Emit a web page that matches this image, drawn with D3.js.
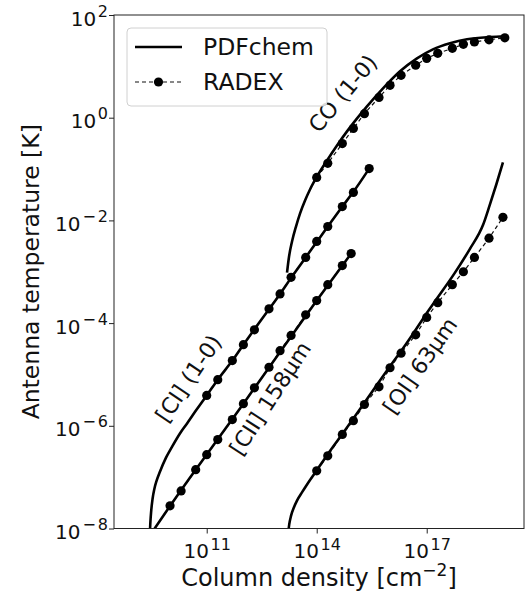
<!DOCTYPE html>
<html><head><meta charset="utf-8">
<script src="https://cdn.jsdelivr.net/npm/d3@7"></script>
<style>
body{margin:0;background:#fff}
text{font-family:"DejaVu Sans",sans-serif;fill:#111}
</style>
</head><body>
<svg id="c" width="531" height="604"></svg>
<script>
// ---------- data (column density N [cm^-2], antenna temperature T [K]) ----------
const coPdfN = [1.55e13,1.76e13,2.12e13,2.72e13,3.50e13,4.80e13,6.56e13,1.02e14,1.91e14,3.57e14,6.70e14,1.26e15,2.35e15,6.43e15,1.87e16,5.43e16,1.48e17,4.32e17,1.26e18,5.32e18,1.36e19];
const coPdfT = [9.64e-4,1.98e-3,3.88e-3,7.60e-3,1.36e-2,2.44e-2,4.0e-2,7.18e-2,0.147,0.288,0.541,0.968,1.66,3.72,8.0,14.3,21.4,28.1,33.6,37.2,38.5];
const coRadN = [1e14,2e14,5e14,1e15,2e15,5e15,1e16,2e16,5e16,1e17,2e17,5e17,1e18,2e18,5e18,1.35e19];
const coRadT = [0.0686,0.129,0.314,0.617,1.20,2.48,4.27,6.68,10.5,14.3,17.9,22.4,26.9,29.8,32.9,36.0];

const ciPdfN = [2.79e9,2.90e9,3.06e9,3.33e9,3.73e9,4.28e9,5.33e9,7.76e9,1.13e10,1.86e10,2.88e10,5.13e10,1e11,2e11,5e11,1e12,2e12,5e12,1e13,2e13,5e13,1e14,2e14,5e14,1e15,2.7e15];
const ciPdfT = [7.2e-9,1.29e-8,2.19e-8,3.76e-8,5.9e-8,8.45e-8,1.29e-7,2.4e-7,3.9e-7,7.1e-7,1.1e-6,2.0e-6,3.9e-6,7.9e-6,1.86e-5,3.8e-5,7.6e-5,1.86e-4,3.7e-4,7.6e-4,1.9e-3,3.8e-3,7.6e-3,1.86e-2,3.6e-2,0.102];
const ciRadN = [1e11,2e11,5e11,1e12,2e12,5e12,1e13,2e13,5e13,1e14,2e14,5e14,1e15,2.7e15];
const ciRadT = [3.9e-6,7.9e-6,1.86e-5,3.8e-5,7.4e-5,1.9e-4,3.7e-4,7.8e-4,1.9e-3,3.9e-3,7.6e-3,1.86e-2,3.5e-2,0.102];

const ciiPdfN = [3.4e9,1e10,5e10,1e11,1e12,1e13,1e14,8.7e14];
const ciiPdfT = [8.9e-9,2.75e-8,1.4e-7,2.75e-7,2.7e-6,2.75e-5,2.75e-4,2.26e-3];
const ciiRadN = [1e10,2e10,5e10,1e11,2e11,5e11,1e12,2e12,5e12,1e13,2e13,5e13,1e14,2e14,5e14,8.7e14];
const ciiRadT = [2.77e-8,5.4e-8,1.4e-7,2.74e-7,5.4e-7,1.32e-6,2.7e-6,5.5e-6,1.38e-5,2.9e-5,5.75e-5,1.45e-4,2.75e-4,5.6e-4,1.32e-3,2.26e-3];

const oiPdfN = [1.66e13,1.78e13,2.0e13,2.4e13,2.9e13,4.0e13,5.45e13,1.02e14,2.0e14,5.2e14,1e15,2e15,4.4e15,1e16,2.1e16,4.3e16,8.9e16,1.9e17,5.9e17,1.51e18,3.47e18,5.25e18,7.9e18,1.2e19];
const oiPdfT = [7.9e-9,1.2e-8,1.78e-8,2.6e-8,3.5e-8,5.1e-8,7.2e-8,1.38e-7,2.8e-7,7.2e-7,1.38e-6,2.8e-6,6.3e-6,1.45e-5,3.0e-5,6.3e-5,1.38e-4,3.0e-4,9.6e-4,2.8e-3,8.3e-3,2.0e-2,5.0e-2,0.135];
const oiRadN = [1e14,2e14,5e14,1e15,2e15,5e15,1e16,2e16,5e16,1e17,2e17,5e17,1e18,2e18,5e18,1.2e19];
const oiRadT = [1.33e-7,2.6e-7,6.8e-7,1.26e-6,2.6e-6,5.75e-6,1.35e-5,2.6e-5,5.9e-5,1.29e-4,2.5e-4,5.6e-4,1.0e-3,1.9e-3,4.5e-3,1.15e-2];

const xDomain = [2.96e8, 4.5e19];
const yDomain = [1e-8, 1e2];
const xTicks = [1e11, 1e14, 1e17];
const yTicks = [1e-8, 1e-6, 1e-4, 1e-2, 1e0, 1e2];
const xTickExp = ["11","14","17"];
const yTickExp = ["\u22128","\u22126","\u22124","\u22122","0","2"];

const lineLabels = ["CO (1-0)", "[CI] (1-0)", "[CII] 158\u03bcm", "[OI] 63\u03bcm"];
const labelN = [5.2e14, 3.2e10, 5.4e12, 6.6e16];
const labelT = [2.95, 8.3e-6, 3.4e-6, 1.48e-5];
const labelAngle = [-50, -56, -57, -55];

// ---------- layout ----------
const m = {l:114, r:524, t:15, b:528.5};
const svg = d3.select("#c");
const x = d3.scaleLog().domain(xDomain).range([m.l, m.r]);
const y = d3.scaleLog().domain(yDomain).range([m.b, m.t]);

svg.append("defs").append("clipPath").attr("id","clip")
  .append("rect").attr("x",m.l).attr("y",m.t).attr("width",m.r-m.l).attr("height",m.b-m.t);

const plot = svg.append("g").attr("clip-path","url(#clip)");

const zip = (N,T) => N.map((n,i)=>[n,T[i]]);
const solid = d3.line().x(d=>x(d[0])).y(d=>y(d[1])).curve(d3.curveMonotoneX);
const straight = d3.line().x(d=>x(d[0])).y(d=>y(d[1]));

const series = [
  [coPdfN, coPdfT, coRadN, coRadT],
  [ciPdfN, ciPdfT, ciRadN, ciRadT],
  [ciiPdfN, ciiPdfT, ciiRadN, ciiRadT],
  [oiPdfN, oiPdfT, oiRadN, oiRadT]
];

series.forEach(s => {
  const rad = zip(s[2], s[3]);
  plot.append("path").attr("d", straight(rad)).attr("fill","none")
    .attr("stroke","#111").attr("stroke-width",1.2).attr("stroke-dasharray","4,3");
  plot.selectAll(null).data(rad).enter().append("circle")
    .attr("cx",d=>x(d[0])).attr("cy",d=>y(d[1])).attr("r",4.6).attr("fill","#000");
});
series.forEach(s => {
  plot.append("path").attr("d", solid(zip(s[0], s[1]))).attr("fill","none")
    .attr("stroke","#000").attr("stroke-width",2.6).attr("stroke-linejoin","round");
});

// ---------- axes ----------
const xAxis = svg.append("g").attr("transform",`translate(0,${m.b})`)
  .call(d3.axisBottom(x).tickValues(xTicks).tickSize(5).tickSizeOuter(0));
const yAxis = svg.append("g").attr("transform",`translate(${m.l},0)`)
  .call(d3.axisLeft(y).tickValues(yTicks).tickSize(5).tickSizeOuter(0));
[xAxis, yAxis].forEach(a => {
  a.select(".domain").remove();
  a.selectAll(".tick line").attr("stroke","#222").attr("stroke-width",1);
});

xAxis.selectAll(".tick text").each(function(d,i){
  const t = d3.select(this).text("").attr("y",29.5).attr("dy",0)
    .attr("font-size",20).attr("fill","#111").attr("text-anchor","middle");
  t.append("tspan").text("10");
  t.append("tspan").attr("dy",-8).attr("dx",1.5).attr("font-size",16).text(xTickExp[i]);
});
yAxis.selectAll(".tick text").each(function(d,i){
  const t = d3.select(this).text("").attr("x",-6).attr("y",10).attr("dy",0)
    .attr("font-size",20).attr("fill","#111").attr("text-anchor","end");
  t.append("tspan").text("10");
  const e = yTickExp[i];
  if (e.charAt(0) === "\u2212") {
    t.append("tspan").attr("dy",-9).attr("dx",2).attr("font-size",16).text("\u2212");
    t.append("tspan").attr("dx",2).attr("font-size",16).text(e.slice(1));
  } else {
    t.append("tspan").attr("dy",-9).attr("dx",1.5).attr("font-size",16).text(e);
  }
});

// frame
svg.append("rect").attr("x",m.l).attr("y",m.t).attr("width",m.r-m.l).attr("height",m.b-m.t)
  .attr("fill","none").attr("stroke","#222").attr("stroke-width",1);

// axis titles
const xt = svg.append("text").attr("x",(m.l+m.r)/2).attr("y",586).attr("text-anchor","middle").attr("font-size",24);
xt.append("tspan").text("Column density [cm");
xt.append("tspan").attr("dy",-10).attr("font-size",17).text("\u22122");
xt.append("tspan").attr("dy",10).text("]");

svg.append("text").attr("transform",`translate(39,${(m.t+m.b)/2}) rotate(-90)`)
  .attr("text-anchor","middle").attr("font-size",23.5).text("Antenna temperature [K]");

// curve labels
lineLabels.forEach((lab,i) => {
  svg.append("text")
    .attr("transform",`translate(${x(labelN[i])},${y(labelT[i])}) rotate(${labelAngle[i]})`)
    .attr("text-anchor","middle").attr("dominant-baseline","central")
    .attr("font-size",22).text(lab);
});

// legend
const lg = svg.append("g");
lg.append("rect").attr("x",127).attr("y",28).attr("width",200).attr("height",78).attr("rx",4)
  .attr("fill","#fff").attr("fill-opacity",0.85).attr("stroke","#d0d0d0").attr("stroke-width",1);
lg.append("line").attr("x1",135).attr("x2",182).attr("y1",47).attr("y2",47)
  .attr("stroke","#000").attr("stroke-width",2.6);
lg.append("text").attr("x",203).attr("y",55).attr("font-size",23.5).text("PDFchem");
lg.append("line").attr("x1",135).attr("x2",182).attr("y1",82).attr("y2",82)
  .attr("stroke","#111").attr("stroke-width",1.2).attr("stroke-dasharray","4,3");
lg.append("circle").attr("cx",158.5).attr("cy",82).attr("r",4.6).attr("fill","#000");
lg.append("text").attr("x",203).attr("y",90).attr("font-size",23.5).text("RADEX");
</script>
</body></html>
